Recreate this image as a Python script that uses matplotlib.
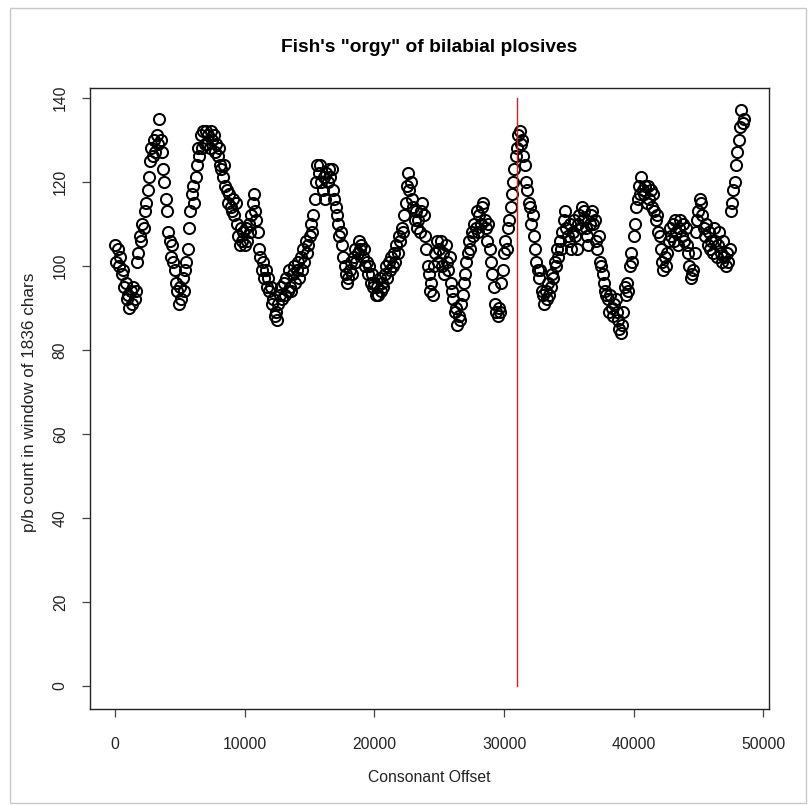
import numpy as np
import matplotlib
matplotlib.use("Agg")
import matplotlib.pyplot as plt
from matplotlib.patches import Rectangle

plt.rcParams["font.family"] = ["Liberation Sans", "DejaVu Sans"]

# p/b counts in a sliding window, one reading every 100 consonants
step = 100
pb_count = [
    105, 101, 104, 100, 102, 98, 99, 95, 96, 92,
    93, 90, 94, 91, 95, 92, 94, 101, 103, 107,
    106, 110, 109, 113, 115, 118, 121, 125, 128, 126,
    130, 127, 131, 129, 135, 130, 127, 123, 120, 116,
    113, 108, 106, 102, 105, 101, 99, 96, 94, 91,
    95, 92, 97, 94, 99, 101, 104, 109, 113, 117,
    119, 115, 121, 124, 128, 126, 131, 128, 132, 129,
    132, 129, 131, 128, 132, 130, 131, 127, 129, 126,
    128, 124, 123, 121, 124, 119, 118, 115, 117, 114,
    113, 116, 112, 115, 110, 107, 105, 109, 106, 108,
    105, 109, 106, 110, 108, 112, 115, 117, 113, 111,
    108, 104, 102, 99, 101, 97, 99, 95, 97, 94,
    95, 91, 92, 88, 89, 87, 91, 93, 95, 92,
    96, 93, 97, 94, 99, 95, 94, 98, 100, 96,
    99, 101, 97, 102, 99, 104, 101, 106, 103, 105,
    107, 110, 108, 112, 116, 120, 124, 122, 124, 120,
    118, 121, 116, 122, 120, 123, 121, 123, 118, 116,
    114, 112, 110, 107, 108, 105, 102, 100, 98, 96,
    97, 99, 101, 98, 102, 104, 101, 103, 106, 104,
    105, 102, 104, 100, 101, 98, 100, 96, 98, 95,
    96, 93, 95, 93, 97, 94, 96, 95, 98, 100,
    97, 101, 99, 102, 100, 103, 101, 105, 103, 107,
    106, 109, 108, 112, 115, 119, 122, 118, 120, 116,
    114, 111, 113, 109, 111, 108, 113, 115, 112, 107,
    104, 100, 98, 94, 96, 93, 100, 103, 106, 101,
    104, 106, 100, 103, 98, 105, 101, 99, 102, 96,
    94, 92, 89, 90, 86, 88, 87, 91, 93, 96,
    98, 101, 103, 106, 104, 108, 107, 110, 109, 113,
    108, 112, 110, 114, 115, 111, 109, 106, 110, 104,
    101, 98, 95, 91, 89, 88, 90, 89, 96, 99,
    103, 106, 104, 109, 111, 114, 117, 120, 123, 126,
    128, 131, 132, 129, 130, 126, 124, 120, 118, 115,
    114, 110, 112, 107, 104, 101, 99, 97, 99, 94,
    93, 91, 94, 92, 96, 93, 95, 98, 97, 101,
    100, 104, 102, 106, 104, 108, 111, 113, 109, 107,
    106, 110, 104, 108, 111, 107, 104, 110, 112, 109,
    114, 111, 113, 109, 107, 105, 110, 112, 113, 110,
    111, 106, 104, 107, 101, 100, 98, 96, 94, 93,
    92, 89, 93, 90, 88, 91, 92, 89, 87, 85,
    84, 86, 89, 95, 93, 96, 94, 100, 103, 101,
    107, 110, 114, 116, 119, 117, 121, 118, 117, 119,
    115, 119, 116, 118, 114, 117, 113, 111, 112, 108,
    107, 104, 101, 99, 102, 100, 103, 106, 109, 107,
    110, 106, 111, 108, 105, 109, 111, 107, 110, 106,
    109, 105, 103, 100, 97, 98, 99, 103, 108, 111,
    113, 116, 115, 112, 109, 107, 110, 105, 108, 104,
    106, 103, 109, 106, 102, 105, 108, 103, 101, 106,
    102, 100, 103, 101, 104, 113, 115, 118, 120, 124,
    127, 130, 133, 137, 134, 135,
]
offset = np.arange(len(pb_count)) * step

marker_x = 31000      # the "orgy" passage
marker_y = [0, 140]

fig = plt.figure(figsize=(8.1, 8.05), dpi=100)
ax = fig.add_axes([90 / 810, 1 - 709 / 805, (769 - 90) / 810, (709 - 88) / 805])

ax.plot(offset, pb_count, "o", mfc="none", mec="black", ms=8.0, mew=1.45)
ax.plot([marker_x, marker_x], marker_y, color="#d42020", lw=1)

span = offset[-1] - offset[0]
ax.set_xlim(offset[0] - 0.04 * span, offset[-1] + 0.04 * span)
ax.set_ylim(-5.5, 142.3)
ax.set_xticks(np.arange(0, 50001, 10000))
ax.set_yticks(np.arange(0, 141, 20))

for s in ax.spines.values():
    s.set_color("#222222")
    s.set_linewidth(1)
ax.tick_params(axis="both", direction="out", length=6, width=0.9,
               color="#444444", labelsize=11.3, labelcolor="#222222")
ax.tick_params(axis="x", pad=14)
ax.tick_params(axis="y", pad=10, labelrotation=90)
for lab in ax.get_yticklabels():
    lab.set_verticalalignment("center")

cx = (90 + 769) / 2 / 810
fig.text(cx, 1 - 47 / 805, "Fish's \"orgy\" of bilabial plosives",
         ha="center", va="center", fontsize=13.8, fontweight="bold")
fig.text(cx, 1 - 777 / 805, "Consonant Offset", ha="center", va="center",
         fontsize=11.3, color="#222222")
fig.text(30 / 810, 1 - 402 / 805, "p/b count in window of 1836 chars",
         ha="center", va="center", rotation=90, fontsize=12.3, color="#222222")

# light frame around the whole picture
fig.add_artist(Rectangle((10 / 810, 1 - 803 / 805), 796 / 810, 795 / 805,
                         transform=fig.transFigure, fill=False,
                         edgecolor="#c8c8c8", lw=1))

fig.savefig("out.png", dpi=100)
